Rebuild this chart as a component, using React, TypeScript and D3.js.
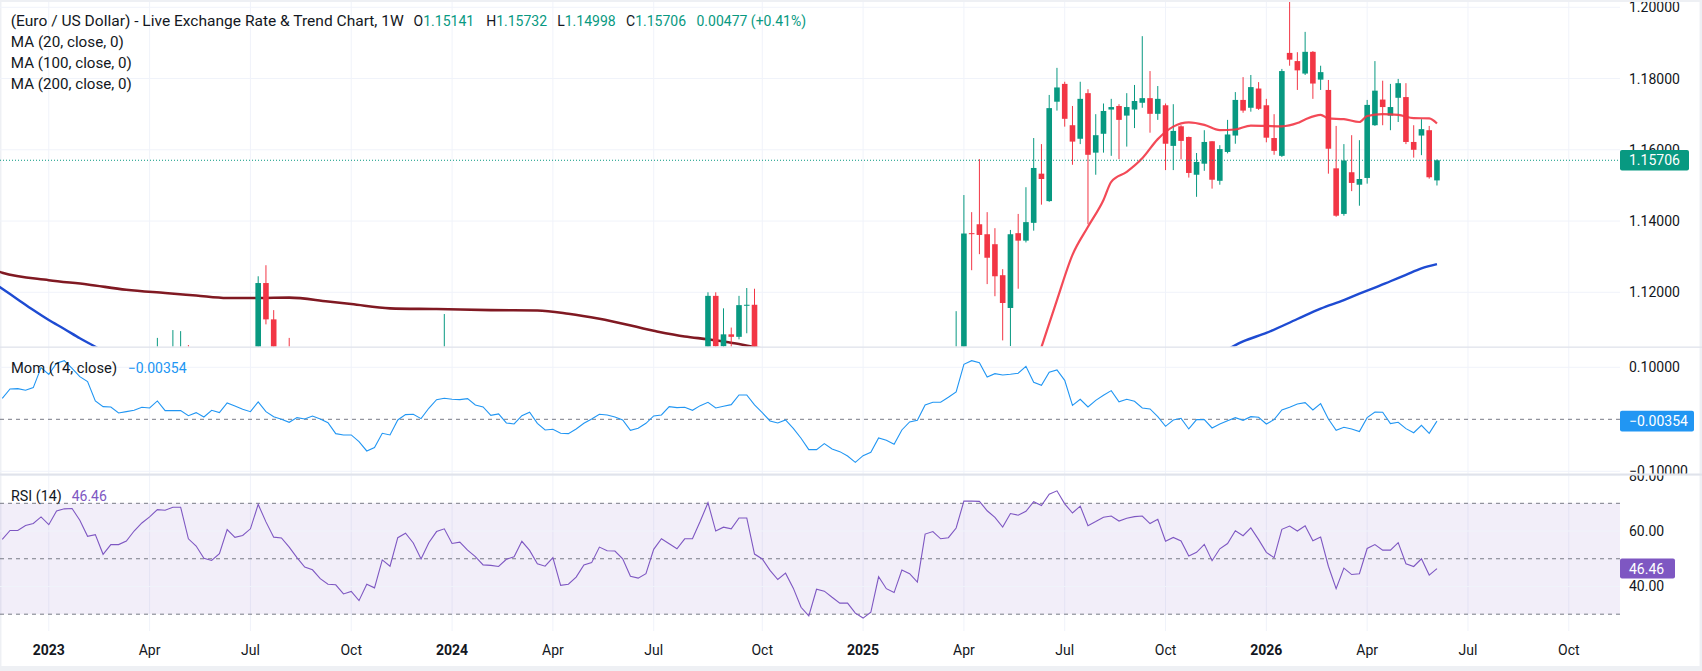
import React from "react";
import * as d3 from "d3";

// ---------- DATA (weekly EUR/USD bars, first bar = week of 2022-11-21, bar index -6) ----------
const FIRST_BAR = -6;
const START_UTC = Date.UTC(2022, 10, 21);
const monthNames = ["Jan", "Feb", "Mar", "Apr", "May", "Jun", "Jul", "Aug", "Sep", "Oct", "Nov", "Dec"];

const opens = [
  1.0325, 1.04, 1.0535, 1.053, 1.0585, 1.062, 1.0705, 1.0645, 1.083, 1.0855,
  1.087, 1.0795, 1.068, 1.0695, 1.0545, 1.0635, 1.064, 1.067, 1.076, 1.084,
  1.09, 1.0993, 1.099, 1.1015, 1.102, 1.085, 1.0805, 1.072, 1.071, 1.075,
  1.094, 1.0895, 1.091, 1.0966, 1.1226, 1.1124, 1.1016, 1.1005, 1.0948, 1.087,
  1.0795, 1.0775, 1.07, 1.066, 1.065, 1.0575, 1.059, 1.051, 1.0595, 1.0565,
  1.073, 1.0685, 1.091, 1.094, 1.0885, 1.076, 1.0895, 1.101, 1.104, 1.094,
  1.095, 1.0895, 1.085, 1.078, 1.0785, 1.0775, 1.082, 1.084, 1.094, 1.089,
  1.081, 1.079, 1.0835, 1.064, 1.0655, 1.0695, 1.076, 1.077, 1.087, 1.0845,
  1.085, 1.08, 1.0705, 1.0695, 1.0715, 1.084, 1.0905, 1.0885, 1.0855, 1.091,
  1.092, 1.103, 1.119, 1.1048, 1.1082, 1.1075, 1.1164, 1.1165, 1.0975, 1.0935,
  1.0865, 1.0795, 1.0835, 1.072, 1.0545, 1.042, 1.0575, 1.0565, 1.05, 1.043,
  1.0425, 1.0305, 1.0245, 1.027, 1.0495, 1.036, 1.033, 1.049, 1.046, 1.0375,
  1.0835, 1.088, 1.0815, 1.08, 1.0955, 1.1366, 1.1391, 1.1363, 1.1335, 1.1248,
  1.1156, 1.1366, 1.1345, 1.1395, 1.1533, 1.1456, 1.1735, 1.1785, 1.1669, 1.1631,
  1.1759, 1.1592, 1.1645, 1.1713, 1.1723, 1.1696, 1.1713, 1.1732, 1.1745, 1.1701,
  1.1725, 1.1611, 1.1666, 1.1636, 1.153, 1.1561, 1.1624, 1.1513, 1.1594, 1.164,
  1.174, 1.1718, 1.1772, 1.1725, 1.1633, 1.1583, 1.1872, 1.1849, 1.1814, 1.1875,
  1.1797, 1.1768, 1.1548, 1.142, 1.1537, 1.1502, 1.1521, 1.1669, 1.1741, 1.1696,
  1.1746, 1.1748, 1.1622, 1.164, 1.1655, 1.15141,
];
const highs = [
  1.0448, 1.0545, 1.0595, 1.0737, 1.0659, 1.0714, 1.071, 1.087, 1.0888, 1.093,
  1.1033, 1.0805, 1.0805, 1.07, 1.069, 1.0695, 1.076, 1.093, 1.0925, 1.0975,
  1.1072, 1.1, 1.1094, 1.1091, 1.1052, 1.088, 1.083, 1.078, 1.0785, 1.097,
  1.101, 1.0975, 1.0975, 1.1245, 1.1276, 1.115, 1.104, 1.1072, 1.0968, 1.0875,
  1.0945, 1.079, 1.077, 1.0735, 1.066, 1.064, 1.064, 1.067, 1.0695, 1.0755,
  1.0755, 1.0965, 1.0965, 1.1017, 1.0895, 1.101, 1.101, 1.1139, 1.1045, 1.1,
  1.0965, 1.0935, 1.0895, 1.081, 1.0805, 1.089, 1.0865, 1.098, 1.0965, 1.094,
  1.084, 1.0875, 1.0885, 1.069, 1.0735, 1.081, 1.079, 1.0895, 1.0895, 1.088,
  1.0915, 1.081, 1.076, 1.076, 1.0845, 1.091, 1.095, 1.0895, 1.0925, 1.101,
  1.1045, 1.12, 1.12, 1.1155, 1.1101, 1.119, 1.1212, 1.121, 1.0995, 1.0945,
  1.087, 1.0905, 1.0935, 1.073, 1.061, 1.0595, 1.063, 1.0595, 1.053, 1.0455,
  1.0455, 1.0435, 1.035, 1.052, 1.053, 1.044, 1.0515, 1.053, 1.053, 1.089,
  1.095, 1.0955, 1.086, 1.1147, 1.1473, 1.1425, 1.1574, 1.1425, 1.138, 1.1265,
  1.1375, 1.142, 1.1495, 1.1633, 1.1616, 1.1754, 1.183, 1.1791, 1.1723, 1.1791,
  1.177, 1.17, 1.173, 1.1743, 1.1728, 1.1759, 1.1782, 1.1919, 1.1821, 1.1779,
  1.173, 1.1728, 1.1669, 1.1637, 1.1591, 1.1655, 1.1624, 1.1613, 1.1684, 1.1762,
  1.1804, 1.181, 1.179, 1.1743, 1.17, 1.1827, 1.2016, 1.1874, 1.1931, 1.1877,
  1.1836, 1.1796, 1.1667, 1.1616, 1.1641, 1.1627, 1.174, 1.1849, 1.1794, 1.1785,
  1.1799, 1.1787, 1.1669, 1.1686, 1.1667, 1.15732,
];
const lows = [
  1.03, 1.029, 1.0443, 1.0525, 1.0575, 1.061, 1.0483, 1.064, 1.0765, 1.0835,
  1.0795, 1.067, 1.0655, 1.0535, 1.0535, 1.0525, 1.0515, 1.066, 1.071, 1.0835,
  1.083, 1.091, 1.0965, 1.094, 1.0848, 1.076, 1.071, 1.0635, 1.0665, 1.073,
  1.0845, 1.0835, 1.0835, 1.0964, 1.111, 1.0966, 1.091, 1.091, 1.0845, 1.0765,
  1.077, 1.0685, 1.063, 1.0615, 1.049, 1.045, 1.0495, 1.0505, 1.052, 1.0515,
  1.0655, 1.068, 1.0855, 1.083, 1.0725, 1.0725, 1.088, 1.1005, 1.088, 1.0895,
  1.0845, 1.0815, 1.078, 1.072, 1.0695, 1.076, 1.0795, 1.083, 1.0875, 1.08,
  1.0775, 1.0725, 1.062, 1.06, 1.065, 1.065, 1.0725, 1.0765, 1.0805, 1.079,
  1.08, 1.067, 1.067, 1.0665, 1.071, 1.0795, 1.088, 1.0825, 1.0775, 1.088,
  1.0905, 1.103, 1.104, 1.1026, 1.1002, 1.1068, 1.1085, 1.0953, 1.0915, 1.081,
  1.076, 1.076, 1.068, 1.0495, 1.0335, 1.042, 1.046, 1.045, 1.0345, 1.0385,
  1.0225, 1.0215, 1.018, 1.0265, 1.0355, 1.014, 1.0285, 1.04, 1.036, 1.036,
  1.0805, 1.0795, 1.073, 1.0775, 1.088, 1.1262, 1.1307, 1.1223, 1.1189, 1.1065,
  1.1049, 1.121, 1.134, 1.1373, 1.1446, 1.1454, 1.171, 1.1665, 1.1558, 1.1616,
  1.1391, 1.153, 1.1592, 1.1583, 1.1574, 1.1609, 1.1661, 1.1718, 1.1648, 1.1684,
  1.1543, 1.1543, 1.1573, 1.1522, 1.1468, 1.1541, 1.1491, 1.1502, 1.159, 1.1617,
  1.1704, 1.1707, 1.1712, 1.1621, 1.1586, 1.158, 1.1836, 1.1768, 1.181, 1.1743,
  1.1768, 1.1533, 1.1412, 1.1415, 1.1484, 1.1443, 1.1505, 1.1667, 1.1669, 1.1655,
  1.1678, 1.1616, 1.1578, 1.1585, 1.1519, 1.14998,
];
const closes = [
  1.04, 1.0535, 1.053, 1.0585, 1.062, 1.0705, 1.0645, 1.083, 1.0855, 1.087,
  1.0795, 1.068, 1.0695, 1.0545, 1.0635, 1.064, 1.067, 1.076, 1.084, 1.0905,
  1.0993, 1.099, 1.102, 1.102, 1.085, 1.0805, 1.072, 1.071, 1.075, 1.094,
  1.0895, 1.091, 1.0966, 1.1226, 1.1124, 1.1016, 1.1005, 1.0948, 1.087, 1.0795,
  1.0775, 1.07, 1.066, 1.065, 1.0575, 1.059, 1.051, 1.0595, 1.0565, 1.073,
  1.0685, 1.091, 1.094, 1.0885, 1.076, 1.0895, 1.101, 1.104, 1.094, 1.095,
  1.0895, 1.085, 1.078, 1.0785, 1.0775, 1.082, 1.084, 1.094, 1.089, 1.081,
  1.079, 1.0835, 1.064, 1.0655, 1.0695, 1.076, 1.077, 1.087, 1.0845, 1.085,
  1.08, 1.0705, 1.0695, 1.0715, 1.084, 1.0905, 1.0885, 1.0855, 1.091, 1.092,
  1.103, 1.119, 1.1048, 1.1082, 1.1075, 1.1164, 1.1165, 1.0975, 1.0935, 1.0865,
  1.0795, 1.0835, 1.072, 1.0545, 1.042, 1.0575, 1.0565, 1.05, 1.043, 1.0425,
  1.0305, 1.0245, 1.027, 1.0495, 1.036, 1.033, 1.049, 1.046, 1.0375, 1.0835,
  1.088, 1.0815, 1.08, 1.0955, 1.1365, 1.1364, 1.1361, 1.1297, 1.1245, 1.117,
  1.1363, 1.1345, 1.1397, 1.1549, 1.1518, 1.1717, 1.1775, 1.1687, 1.1623, 1.1743,
  1.1586, 1.1641, 1.1709, 1.172, 1.1684, 1.172, 1.1737, 1.1745, 1.1701, 1.1743,
  1.1617, 1.1653, 1.1625, 1.1535, 1.1566, 1.1622, 1.1516, 1.1602, 1.1643, 1.174,
  1.171, 1.1776, 1.1715, 1.1634, 1.1597, 1.1821, 1.1853, 1.1823, 1.1875, 1.1786,
  1.1818, 1.1603, 1.1415, 1.157, 1.1507, 1.1518, 1.1726, 1.1766, 1.172, 1.172,
  1.1787, 1.1622, 1.16, 1.1658, 1.15229, 1.15706,
];

// Momentum (14, close), one value per bar
const momValues = [
  0.0404, 0.0583, 0.059, 0.0558, 0.0609, 0.0994, 0.0865, 0.1077, 0.1128, 0.098,
  0.082, 0.0724, 0.0353, 0.0244, 0.0237, 0.0122, 0.0147, 0.0173, 0.0231, 0.0218,
  0.0353, 0.0167, 0.0167, 0.0167, 0.007, 0.0128, 0.0045, 0.0173, 0.0128, 0.0314,
  0.0256, 0.0192, 0.0147, 0.0333, 0.0147, 0.0051, 0.0, -0.0058, 0.0032, 0.0006,
  0.0064, 0.0006, -0.0064, -0.0276, -0.0301, -0.0301, -0.043, -0.0609, -0.0542, -0.0269,
  -0.0301, -0.0013, 0.009, 0.0096, 0.0013, 0.0212, 0.0378, 0.0404, 0.0385, 0.0378,
  0.0397, 0.0276, 0.0237, 0.0077, 0.0103, -0.007, -0.009, 0.007, 0.0135, -0.0077,
  -0.0205, -0.0192, -0.0269, -0.0276, -0.0186, -0.0077, 0.0006, 0.0096, 0.0083, 0.0045,
  -0.0013, -0.0212, -0.0173, -0.0077, 0.0064, 0.0083, 0.0244, 0.0224, 0.0231, 0.0173,
  0.0263, 0.0327, 0.0218, 0.025, 0.0282, 0.0468, 0.0468, 0.0276, 0.0128, -0.0032,
  -0.0071, -0.0013, -0.0173, -0.0365, -0.0583, -0.0583, -0.0468, -0.0571, -0.0622, -0.0705,
  -0.0827, -0.0699, -0.0635, -0.0359, -0.0404, -0.0481, -0.0205, -0.0051, -0.0019, 0.0276,
  0.0327, 0.0327, 0.0423, 0.0526, 0.1058, 0.1128, 0.109, 0.0814, 0.0878, 0.0853,
  0.0865, 0.0885, 0.1019, 0.0712, 0.0654, 0.0904, 0.0949, 0.075, 0.0269, 0.0385,
  0.0237, 0.0365, 0.0462, 0.0551, 0.0336, 0.0385, 0.0346, 0.0218, 0.0199, 0.0051,
  -0.0135, -0.0013, 0.0019, -0.0186, -0.0006, -0.0006, -0.0167, -0.009, -0.0026, 0.0032,
  -0.0019, 0.0051, 0.0038, -0.009, -0.0006, 0.0179, 0.0231, 0.0295, 0.0321, 0.0179,
  0.0301, 0.0006, -0.0212, -0.0154, -0.0186, -0.0237, 0.0032, 0.0141, 0.0135, -0.0083,
  -0.0058, -0.018, -0.0258, -0.0115, -0.0269, -0.00354,
];

// RSI (14), one value per bar
const rsiValues = [
  57.0, 60.2, 60.2, 62.0, 62.7, 65.1, 62.3, 67.2, 68.0, 68.1,
  63.9, 58.1, 58.7, 51.6, 55.1, 55.1, 56.4, 60.0, 62.9, 65.1,
  67.7, 67.5, 68.6, 68.6, 57.2, 54.6, 50.2, 49.4, 51.8, 60.5,
  57.7, 58.4, 60.8, 69.6, 63.3, 57.8, 57.5, 54.2, 50.4, 47.0,
  46.0, 42.8, 40.8, 40.6, 37.3, 38.2, 34.9, 40.8, 39.5, 49.6,
  47.3, 57.6, 59.2, 55.7, 49.9, 55.8, 59.8, 60.8, 55.5, 56.0,
  53.1, 50.8, 47.8, 47.6, 47.2, 49.8, 50.7, 56.3, 53.0, 48.2,
  47.3, 50.4, 40.4, 40.8, 43.4, 47.8, 48.6, 54.2, 52.9, 52.8,
  50.0, 43.7, 43.0, 44.6, 53.4, 57.2, 55.4, 53.6, 57.2, 57.2,
  63.5, 70.2, 60.0, 61.4, 60.8, 64.7, 64.7, 51.7, 49.9, 45.8,
  42.5, 44.8, 39.4, 32.5, 29.4, 39.0, 38.3, 36.1, 34.0, 34.0,
  30.4, 28.6, 30.7, 43.5, 39.2, 37.8, 45.9, 44.6, 41.6, 58.9,
  59.8, 57.2, 57.6, 61.1, 70.8, 70.8, 70.7, 67.3, 64.9, 61.4,
  66.3, 65.7, 67.1, 70.6, 69.2, 73.3, 74.5, 69.8, 66.5, 69.0,
  61.9, 63.4, 65.0, 65.4, 63.6, 64.6, 65.2, 65.4, 62.7, 64.2,
  56.3, 57.7, 56.4, 51.0, 52.3, 55.2, 49.3, 53.6, 55.5, 60.1,
  58.3, 61.1, 56.9, 52.3, 50.4, 60.6, 61.8, 60.0, 61.9, 56.5,
  57.8, 47.3, 39.2, 46.6, 44.3, 44.6, 53.7, 55.1, 53.1, 53.1,
  55.8, 48.2, 47.2, 50.0, 44.1, 46.46,
];

// Moving averages, sampled [bar index] -> value
const ma20Bars = [125, 127, 128, 130, 132, 134, 136, 137, 139, 141, 143, 145, 147, 149, 151, 153, 155, 157, 159, 161, 162, 164, 165, 167, 169, 170, 172, 174, 176, 178, 179];
const ma20Values = [1.09, 1.098, 1.1046, 1.1178, 1.1305, 1.1384, 1.1459, 1.151, 1.1538, 1.1576, 1.163, 1.1665, 1.1677, 1.167, 1.1655, 1.1657, 1.1668, 1.1667, 1.1666, 1.1675, 1.1685, 1.1698, 1.1688, 1.1686, 1.1678, 1.1695, 1.17, 1.1698, 1.1689, 1.1688, 1.1674];
const ma100Bars = [-7, -6, -4, -2, 0, 2, 4, 6, 8, 20, 50, 80, 110, 130, 150, 152, 154, 157, 161, 164, 167, 169, 171, 173, 175, 177, 179];
const ma100Values = [1.1225, 1.121, 1.118, 1.115, 1.1122, 1.1097, 1.1071, 1.1047, 1.1022, 1.095, 1.083, 1.083, 1.079, 1.088, 1.1017, 1.104, 1.1062, 1.1086, 1.1125, 1.1154, 1.1178, 1.1196, 1.1213, 1.1231, 1.1249, 1.1267, 1.1279];
const ma200Bars = [-7, -6, 0, 5, 10, 15, 19, 23, 27, 31, 36, 39, 44, 50, 57, 63, 67, 71, 78, 82, 85, 87, 89, 91, 100, 120];
const ma200Values = [1.1262, 1.1255, 1.1234, 1.1222, 1.1207, 1.1198, 1.1191, 1.1184, 1.1184, 1.1185, 1.1174, 1.1167, 1.1155, 1.1153, 1.115, 1.1149, 1.114, 1.1126, 1.1092, 1.1076, 1.1068, 1.1062, 1.1055, 1.1046, 1.102, 1.094];

// Axis ticks
const priceTicks = [1.2, 1.18, 1.16, 1.14, 1.12];
const momTicks = [0.1, -0.1];
const rsiTicks = [80, 60, 40];
const rsiLevels = [70, 50, 30];

const titleText = "(Euro / US Dollar) - Live Exchange Rate & Trend Chart, 1W";
const maLegends = ["MA (20, close, 0)", "MA (100, close, 0)", "MA (200, close, 0)"];
const momLegend = "Mom (14, close)";
const rsiLegend = "RSI (14)";

// ---------- STYLE ----------
const UP = "#089981";
const DOWN = "#f23645";
const TEXT = "#131722";
const GRID = "#f0f3fa";
const FONT = "Roboto, 'Noto Sans', 'Liberation Sans', sans-serif";

export default function App() {
  const W = 1702;
  const H = 671;
  const plotR = 1620;

  const x = d3.scaleLinear().domain([0, 196]).range([48.8, 1568.8]);
  const yP = d3.scaleLinear().domain([1.12, 1.2]).range([292.3, 7.3]);
  const yM = d3.scaleLinear().domain([-0.1, 0.1]).range([471.3, 367.3]);
  const yR = d3.scaleLinear().domain([30, 70]).range([614.2, 503.3]);

  const panes = {
    price: [2, 346.5],
    mom: [347.8, 473.5],
    rsi: [475.6, 631],
  };

  const bars = closes.map((c, k) => ({
    i: k + FIRST_BAR,
    o: opens[k],
    h: highs[k],
    l: lows[k],
    c,
  }));

  // time ticks: first weekly bar of each quarter
  const ticks: { i: number; label: string; bold: boolean }[] = [];
  for (let k = 1; k < 207; k++) {
    const d = new Date(START_UTC + k * 7 * 864e5);
    const p = new Date(START_UTC + (k - 1) * 7 * 864e5);
    const m = d.getUTCMonth();
    if (m !== p.getUTCMonth() && m % 3 === 0) {
      ticks.push({ i: k + FIRST_BAR, label: m === 0 ? String(d.getUTCFullYear()) : monthNames[m], bold: m === 0 });
    }
  }

  const maLine = d3
    .line<[number, number]>()
    .x((d) => x(d[0]))
    .y((d) => yP(d[1]))
    .curve(d3.curveMonotoneX);
  const zip = (a: number[], b: number[]) => a.map((v, k) => [v, b[k]] as [number, number]);

  const momPath = d3
    .line<number>()
    .x((_, k) => x(k + FIRST_BAR))
    .y((v) => yM(v))(momValues);
  const rsiPath = d3
    .line<number>()
    .x((_, k) => x(k + FIRST_BAR))
    .y((v) => yR(v))(rsiValues);

  const last = bars[bars.length - 1];
  const prev = bars[bars.length - 2];
  const chg = last.c - prev.c;
  const chgPct = (chg / prev.c) * 100;
  const fmt5 = d3.format(".5f");
  const lastMom = momValues[momValues.length - 1];
  const lastRsi = rsiValues[rsiValues.length - 1];

  const bodyW = 5.6;
  const ohlc = [
    { k: "O", v: last.o, x: 413.6 },
    { k: "H", v: last.h, x: 486.2 },
    { k: "L", v: last.l, x: 557.2 },
    { k: "C", v: last.c, x: 626 },
  ];

  return (
    <>
      <style>{`html,body{margin:0;padding:0;overflow:hidden;background:#fff}`}</style>
      <svg width={W} height={H} style={{ display: "block", fontFamily: FONT }}>
        <defs>
          <clipPath id="cPrice"><rect x={0} y={panes.price[0]} width={plotR} height={panes.price[1] - panes.price[0]} /></clipPath>
          <clipPath id="cMom"><rect x={0} y={panes.mom[0]} width={plotR} height={panes.mom[1] - panes.mom[0]} /></clipPath>
          <clipPath id="cRsi"><rect x={0} y={panes.rsi[0]} width={plotR} height={panes.rsi[1] - panes.rsi[0]} /></clipPath>
          <clipPath id="aPrice"><rect x={plotR} y={panes.price[0]} width={W - plotR} height={panes.price[1] - panes.price[0]} /></clipPath>
          <clipPath id="aMom"><rect x={plotR} y={panes.mom[0]} width={W - plotR} height={panes.mom[1] - panes.mom[0]} /></clipPath>
          <clipPath id="aRsi"><rect x={plotR} y={panes.rsi[0]} width={W - plotR} height={panes.rsi[1] - panes.rsi[0]} /></clipPath>
        </defs>

        {/* frame */}
        <rect x={0} y={0} width={W} height={H} fill="#eef0f4" />
        <rect x={1.5} y={2} width={W - 4} height={664} fill="#ffffff" />

        {/* vertical grid */}
        {ticks.map((t) => (
          <line key={"vg" + t.i} x1={x(t.i)} x2={x(t.i)} y1={2} y2={631} stroke={GRID} strokeWidth={1} />
        ))}

        {/* price grid */}
        <g clipPath="url(#cPrice)">
          {priceTicks.map((p) => (
            <line key={"pg" + p} x1={0} x2={plotR} y1={yP(p)} y2={yP(p)} stroke={GRID} />
          ))}
        </g>
        {/* mom grid */}
        <g clipPath="url(#cMom)">
          {momTicks.map((v) => (
            <line key={"mg" + v} x1={0} x2={plotR} y1={yM(v)} y2={yM(v)} stroke={GRID} />
          ))}
          <line x1={0} x2={plotR} y1={yM(0)} y2={yM(0)} stroke="#787b86" strokeDasharray="4,4" />
        </g>
        {/* rsi grid + band */}
        <g clipPath="url(#cRsi)">
          <rect x={0} y={yR(70)} width={plotR} height={yR(30) - yR(70)} fill="rgba(126,87,194,0.1)" />
          {rsiTicks.map((v) => (
            <line key={"rg" + v} x1={0} x2={plotR} y1={yR(v)} y2={yR(v)} stroke={GRID} />
          ))}
          {rsiLevels.map((v) => (
            <line key={"rl" + v} x1={0} x2={plotR} y1={yR(v)} y2={yR(v)} stroke="#787b86" strokeDasharray="4,4" />
          ))}
        </g>

        {/* price pane */}
        <g clipPath="url(#cPrice)">
          <path d={maLine(zip(ma200Bars, ma200Values)) || ""} fill="none" stroke="#801922" strokeWidth={2.6} />
          <path d={maLine(zip(ma100Bars, ma100Values)) || ""} fill="none" stroke="#1e4bd2" strokeWidth={2.4} />
          {bars.map((b) => {
            const col = b.c >= b.o ? UP : DOWN;
            const cx = x(b.i);
            const top = yP(Math.max(b.o, b.c));
            const bot = yP(Math.min(b.o, b.c));
            return (
              <g key={"b" + b.i}>
                <line x1={cx} x2={cx} y1={yP(b.h)} y2={yP(b.l)} stroke={col} strokeWidth={1} />
                <rect x={cx - bodyW / 2} y={top} width={bodyW} height={Math.max(1, bot - top)} fill={col} />
              </g>
            );
          })}
          <path d={maLine(zip(ma20Bars, ma20Values)) || ""} fill="none" stroke="#f23645" strokeOpacity={0.9} strokeWidth={2.2} />
          <line x1={0} x2={plotR} y1={yP(last.c)} y2={yP(last.c)} stroke={UP} strokeWidth={1} strokeDasharray="1,2" />
        </g>

        {/* momentum line */}
        <g clipPath="url(#cMom)">
          <path d={momPath || ""} fill="none" stroke="#2196f3" strokeWidth={1.1} />
        </g>
        {/* rsi line */}
        <g clipPath="url(#cRsi)">
          <path d={rsiPath || ""} fill="none" stroke="#7e57c2" strokeWidth={1.1} />
        </g>

        {/* pane separators */}
        <rect x={0} y={346.5} width={W} height={1.3} fill="#e0e3eb" />
        <rect x={0} y={473.5} width={W} height={2.1} fill="#e0e3eb" />

        {/* legends */}
        <g fontSize={14} dominantBaseline="central">
          <text x={10.8} y={21} fill={TEXT} textLength={393} lengthAdjust="spacingAndGlyphs">{titleText}</text>
          {ohlc.map((d) => (
            <text key={d.k} x={d.x} y={21} fill={TEXT}>
              <tspan>{d.k}</tspan>
              <tspan fill={UP}>{fmt5(d.v)}</tspan>
            </text>
          ))}
          <text x={696.5} y={21} fill={UP}>{`${fmt5(chg)} (${chgPct >= 0 ? "+" : ""}${chgPct.toFixed(2)}%)`}</text>
          {maLegends.map((t, k) => (
            <text key={t} x={10.8} y={42.3 + k * 21} fill={TEXT} textLength={k === 0 ? 113 : 121} lengthAdjust="spacingAndGlyphs">{t}</text>
          ))}
          <text x={11} y={367.7} fill={TEXT} textLength={106} lengthAdjust="spacingAndGlyphs">{momLegend}</text>
          <text x={127.7} y={367.7} fill="#2196f3">{fmt5(lastMom)}</text>
          <text x={11} y={495.7} fill={TEXT} textLength={50.7} lengthAdjust="spacingAndGlyphs">{rsiLegend}</text>
          <text x={71.7} y={495.7} fill="#7e57c2">{lastRsi.toFixed(2)}</text>
        </g>

        {/* right axes */}
        <g fontSize={14} dominantBaseline="central" fill={TEXT}>
          <g clipPath="url(#aPrice)">
            {priceTicks.map((p) => (
              <text key={"pt" + p} x={1629} y={yP(p)}>{fmt5(p)}</text>
            ))}
          </g>
          <g clipPath="url(#aMom)">
            {momTicks.map((v) => (
              <text key={"mt" + v} x={1629} y={yM(v)}>{fmt5(v)}</text>
            ))}
          </g>
          <g clipPath="url(#aRsi)">
            {rsiTicks.map((v) => (
              <text key={"rt" + v} x={1629} y={yR(v)}>{v.toFixed(2)}</text>
            ))}
          </g>
        </g>

        {/* last value badges */}
        <g fontSize={14} dominantBaseline="central">
          <rect x={plotR} y={yP(last.c) - 10.3} width={69} height={20.6} rx={2} fill={UP} />
          <text x={1629} y={yP(last.c)} fill="#fff">{fmt5(last.c)}</text>
          <rect x={plotR} y={yM(lastMom) - 10.3} width={74} height={20.6} rx={2} fill="#2196f3" />
          <text x={1629} y={yM(lastMom)} fill="#fff">{fmt5(lastMom)}</text>
          <rect x={plotR} y={yR(lastRsi) - 10} width={55} height={20} rx={2} fill="#7e57c2" />
          <text x={1629} y={yR(lastRsi)} fill="#fff">{lastRsi.toFixed(2)}</text>
        </g>

        {/* time axis */}
        <g fontSize={14} dominantBaseline="central" textAnchor="middle" fill={TEXT}>
          {ticks.map((t) => (
            <text key={"xt" + t.i} x={x(t.i)} y={650} fontWeight={t.bold ? 700 : 400}>{t.label}</text>
          ))}
        </g>
      </svg>
    </>
  );
}
